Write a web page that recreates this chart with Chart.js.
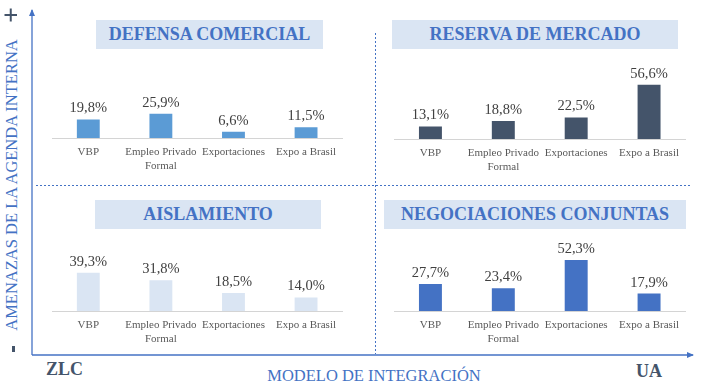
<!DOCTYPE html>
<html>
<head>
<meta charset="utf-8">
<script src="https://cdn.jsdelivr.net/npm/chart.js@4/dist/chart.umd.min.js"></script>
<style>
  html, body { margin: 0; padding: 0; background: #ffffff; }
  #wrap { position: relative; width: 706px; height: 384px; overflow: hidden; font-family: "Liberation Serif", "Times New Roman", serif; }
  .cv { position: absolute; }
  .title { position: absolute; background: #dae5f3; color: #4472c4; font-weight: bold; font-size: 18px;
           display: flex; align-items: center; justify-content: center; white-space: nowrap; }
  .txt { position: absolute; white-space: nowrap; }
  svg { position: absolute; left: 0; top: 0; }
</style>
</head>
<body>
<div id="wrap">
  <svg width="706" height="384">
    <defs>
      <marker id="arr" markerWidth="8" markerHeight="8" refX="6" refY="4" orient="auto" markerUnits="userSpaceOnUse">
        <path d="M0,1 L7,4 L0,7 z" fill="#4472c4"/>
      </marker>
    </defs>
    <line x1="32" y1="355" x2="32" y2="10" stroke="#4472c4" stroke-width="1.3" marker-end="url(#arr)"/>
    <line x1="32" y1="355" x2="693" y2="355" stroke="#4472c4" stroke-width="1.3" marker-end="url(#arr)"/>
    <line x1="375.5" y1="33" x2="375.5" y2="354" stroke="#4472c4" stroke-width="1" stroke-dasharray="2,2"/>
    <line x1="36" y1="185.5" x2="692" y2="185.5" stroke="#4472c4" stroke-width="1" stroke-dasharray="2,2"/>
    <!-- plus / minus signs of the vertical axis -->
    <line x1="4.5" y1="15" x2="17" y2="15" stroke="#44546a" stroke-width="2"/>
    <line x1="10.75" y1="8.5" x2="10.75" y2="21.5" stroke="#44546a" stroke-width="2"/>
    <line x1="13.5" y1="346" x2="13.5" y2="352" stroke="#44546a" stroke-width="3"/>
  </svg>

  <div class="title" style="left:96px;top:20px;width:227px;height:29px;">DEFENSA COMERCIAL</div>
  <div class="title" style="left:392px;top:20px;width:286px;height:29px;">RESERVA DE MERCADO</div>
  <div class="title" style="left:95px;top:200px;width:226px;height:29px;">AISLAMIENTO</div>
  <div class="title" style="left:384px;top:200px;width:302px;height:29px;">NEGOCIACIONES CONJUNTAS</div>

  <canvas id="c1" class="cv" width="292" height="128" style="left:52px;top:50px;"></canvas>
  <canvas id="c2" class="cv" width="293" height="128" style="left:394px;top:51px;"></canvas>
  <canvas id="c3" class="cv" width="292" height="128" style="left:52px;top:223px;"></canvas>
  <canvas id="c4" class="cv" width="293" height="128" style="left:394px;top:223px;"></canvas>

  <div class="txt" style="left:12px;top:184.5px;transform:translate(-50%,-50%) rotate(-90deg);color:#4472c4;font-size:16.5px;">AMENAZAS DE LA AGENDA INTERNA</div>
  <div class="txt" style="left:46px;top:359px;color:#44546a;font-size:18px;font-weight:bold;line-height:20px;">ZLC</div>
  <div class="txt" style="left:636px;top:361px;color:#44546a;font-size:18px;font-weight:bold;line-height:20px;">UA</div>
  <div class="txt" style="left:374px;top:375.5px;transform:translate(-50%,-50%);color:#4472c4;font-size:16.5px;line-height:18px;">MODELO DE INTEGRACIÓN</div>
</div>

<script>
// ---- data ----
const categories = ['VBP', ['Empleo Privado', 'Formal'], 'Exportaciones', 'Expo a Brasil'];
const defensaComercial = [19.8, 25.9, 6.6, 11.5];
const reservaMercado = [13.1, 18.8, 22.5, 56.6];
const aislamiento = [39.3, 31.8, 18.5, 14.0];
const negociacionesConjuntas = [27.7, 23.4, 52.3, 17.9];

Chart.defaults.font.family = '"Liberation Serif", "Times New Roman", serif';

const valueLabels = {
  id: 'valueLabels',
  afterDatasetsDraw(chart) {
    const ctx = chart.ctx;
    const meta = chart.getDatasetMeta(0);
    const vals = chart.data.datasets[0].data;
    ctx.save();
    ctx.font = '14.5px "Liberation Serif", "Times New Roman", serif';
    ctx.fillStyle = '#404040';
    ctx.textAlign = 'center';
    ctx.textBaseline = 'alphabetic';
    meta.data.forEach((bar, i) => {
      const txt = vals[i].toFixed(1).replace('.', ',') + '%';
      ctx.fillText(txt, bar.x, bar.y - 7);
    });
    ctx.restore();
  }
};

function makeChart(id, values, color, yMax) {
  return new Chart(document.getElementById(id), {
    type: 'bar',
    data: {
      labels: categories,
      datasets: [{ data: values, backgroundColor: color, borderWidth: 0,
                   categoryPercentage: 1, barPercentage: 0.315 }]
    },
    options: {
      responsive: false,
      animation: false,
      layout: { padding: 0 },
      plugins: { legend: { display: false }, tooltip: { enabled: false } },
      scales: {
        x: {
          grid: { display: false, drawTicks: false },
          border: { display: true, color: '#d4d4d4', width: 1 },
          ticks: { color: '#595959', padding: 8, maxRotation: 0, autoSkip: false,
                   font: { size: 11, lineHeight: 1.2 } },
          afterFit: s => { s.height = 40; }
        },
        y: { display: false, min: 0, max: yMax }
      }
    },
    plugins: [valueLabels]
  });
}

makeChart('c1', defensaComercial, '#5b9bd5', 94);
makeChart('c2', reservaMercado, '#44546a', 92);
makeChart('c3', aislamiento, '#dae5f3', 90.7);
makeChart('c4', negociacionesConjuntas, '#4472c4', 90.3);
</script>
</body>
</html>
